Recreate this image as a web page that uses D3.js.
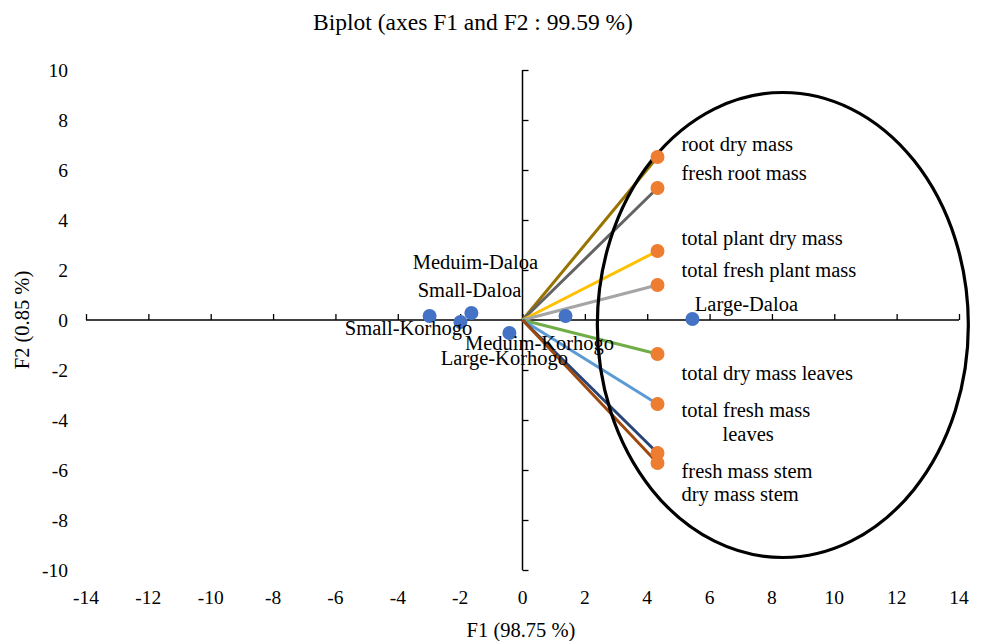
<!DOCTYPE html>
<html><head><meta charset="utf-8">
<script src="https://cdn.jsdelivr.net/npm/d3@7"></script>
<style>body{margin:0;background:#fff}svg{display:block}text{font-family:"Liberation Serif","Times New Roman",serif;fill:#000}</style>
</head><body>
<script>
// ---- data ----
const variables = ["root dry mass","fresh root mass","total plant dry mass","total fresh plant mass","total dry mass leaves","total fresh mass leaves","fresh mass stem","dry mass stem"];
const varF1 = [4.33,4.33,4.33,4.33,4.33,4.33,4.33,4.33];
const varF2 = [6.52,5.28,2.76,1.40,-1.36,-3.36,-5.32,-5.72];
const varColors = ["#997300","#636363","#FFC000","#A5A5A5","#70AD47","#5B9BD5","#264478","#9E480E"];
const observations = ["Small-Korhogo","Small-Daloa","Meduim-Daloa","Large-Korhogo","Meduim-Korhogo","Large-Daloa"];
const obsF1 = [-2.98,-1.99,-1.64,-0.42,1.38,5.45];
const obsF2 = [0.16,-0.08,0.28,-0.52,0.16,0.04];
const xTicks = [-14,-12,-10,-8,-6,-4,-2,0,2,4,6,8,10,12,14];
const yTicks = [-10,-8,-6,-4,-2,0,2,4,6,8,10];
const ellipseCenter = [8.35,-0.2];
const ellipseRadii = [5.95,9.3];
// label placement (pixels relative to point, baseline)
const obsLabelOffset = [[-21,19],[9,-25],[4,-44],[-5,32],[-26,34],[54,-8]];
const varLabelOffset = [[24,-6],[24,-8],[24,-6],[24,-8],[24,26],[24,13],[24,25],[24,38]];

// ---- chart ----
const W=984,H=641;
const svg=d3.select("body").append("svg").attr("width",W).attr("height",H);
const x=d3.scaleLinear().domain([-14,14]).range([86,959]);
const y=d3.scaleLinear().domain([-10,10]).range([570,70]);
const FS="20.5px";

svg.append("text").attr("x",473).attr("y",30).attr("text-anchor","middle").style("font-size","23.5px").text("Biplot (axes F1 and F2 : 99.59 %)");

// x axis through y=0
const xa=svg.append("g").attr("transform",`translate(0,${y(0)})`)
  .call(d3.axisTop(x).tickValues(xTicks).tickSize(6).tickFormat(""));
xa.select(".domain").attr("stroke","#000").attr("stroke-width",1.5).attr("d",`M${x(-14)},0H${x(14)}`);
xa.selectAll(".tick line").attr("stroke","#000").attr("stroke-width",1.3);
// y axis through x=0
const ya=svg.append("g").attr("transform",`translate(${x(0)},0)`)
  .call(d3.axisRight(y).tickValues(yTicks).tickSize(6).tickFormat(""));
ya.select(".domain").attr("stroke","#000").attr("stroke-width",1.5).attr("d",`M0,${y(10)}V${y(-10)}`);
ya.selectAll(".tick line").attr("stroke","#000").attr("stroke-width",1.3);

// tick labels
svg.append("g").selectAll("text").data(xTicks).join("text")
  .attr("x",d=>x(d)).attr("y",604).attr("text-anchor","middle").style("font-size","19.5px").text(d=>d);
svg.append("g").selectAll("text").data(yTicks).join("text")
  .attr("x",68).attr("y",d=>y(d)+7).attr("text-anchor","end").style("font-size","19.5px").text(d=>d);

svg.append("text").attr("x",521).attr("y",637).attr("text-anchor","middle").style("font-size",FS).text("F1 (98.75 %)");
svg.append("text").attr("transform",`translate(29,${y(0)}) rotate(-90)`).attr("text-anchor","middle").style("font-size",FS).text("F2 (0.85 %)");

// vectors
const vars=variables.map((n,i)=>({n,f1:varF1[i],f2:varF2[i],c:varColors[i],o:varLabelOffset[i]}));
svg.append("g").selectAll("line").data(vars).join("line")
  .attr("x1",x(0)).attr("y1",y(0)).attr("x2",d=>x(d.f1)).attr("y2",d=>y(d.f2))
  .attr("stroke",d=>d.c).attr("stroke-width",3);

// ellipse
svg.append("ellipse").attr("cx",x(ellipseCenter[0])).attr("cy",y(ellipseCenter[1]))
  .attr("rx",x(ellipseRadii[0])-x(0)).attr("ry",y(0)-y(ellipseRadii[1]))
  .attr("fill","none").attr("stroke","#000").attr("stroke-width",3.2);

// observations
const obs=observations.map((n,i)=>({n,f1:obsF1[i],f2:obsF2[i],o:obsLabelOffset[i]}));
svg.append("g").selectAll("circle").data(obs).join("circle")
  .attr("cx",d=>x(d.f1)).attr("cy",d=>y(d.f2)).attr("r",7).attr("fill","#4472C4");
svg.append("g").selectAll("circle").data(vars).join("circle")
  .attr("cx",d=>x(d.f1)).attr("cy",d=>y(d.f2)).attr("r",7).attr("fill","#ED7D31");

svg.append("g").selectAll("text").data(obs).join("text")
  .attr("x",d=>x(d.f1)+d.o[0]).attr("y",d=>y(d.f2)+d.o[1]).attr("text-anchor","middle").style("font-size",FS).text(d=>d.n);
const vl=svg.append("g").selectAll("text").data(vars).join("text")
  .attr("x",d=>x(d.f1)+d.o[0]).attr("y",d=>y(d.f2)+d.o[1]).style("font-size",FS);
vl.each(function(d){
  const t=d3.select(this);
  if(d.n==="total fresh mass leaves"){
    t.append("tspan").text("total fresh mass");
    t.append("tspan").attr("x",x(d.f1)+d.o[0]+41).attr("dy",24).text("leaves");
  } else t.text(d.n);
});
</script>
</body></html>
